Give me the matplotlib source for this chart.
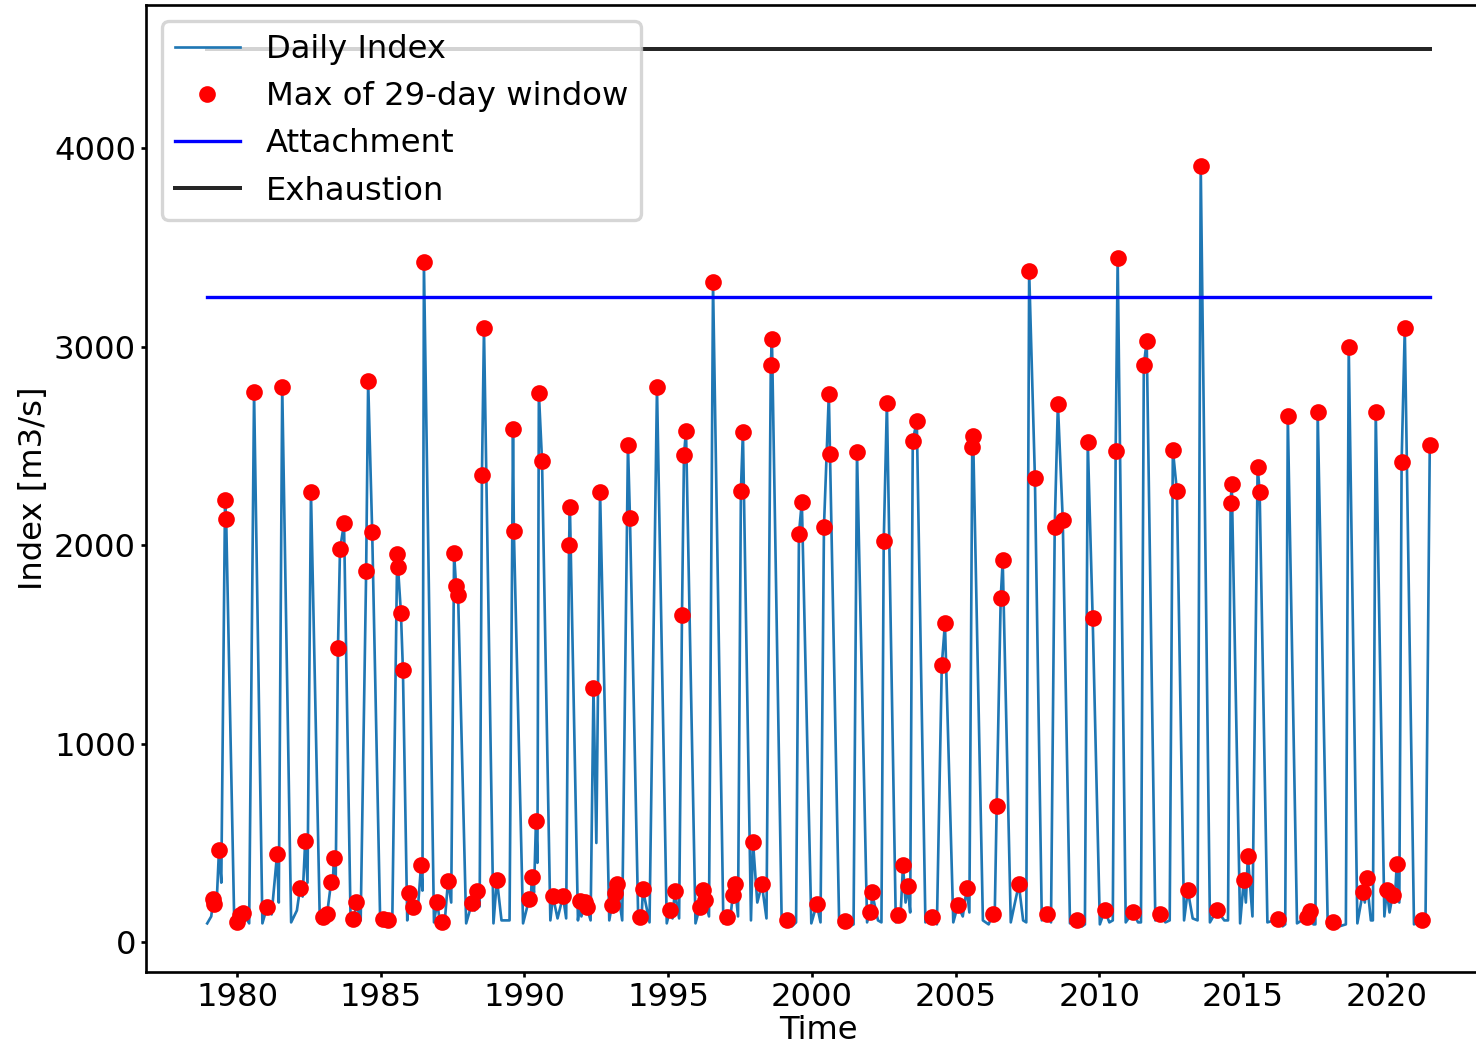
import matplotlib
matplotlib.use("Agg")
import matplotlib.pyplot as plt
import numpy as np

# red dots: max of 29-day window (decimal year, m3/s)
dot_t = [1979.17, 1979.20, 1979.37, 1979.58, 1979.62, 1980.00, 1980.10, 1980.21,
         1980.59, 1981.04, 1981.39, 1981.57, 1982.19, 1982.37, 1982.57, 1982.99,
         1983.13, 1983.27, 1983.37, 1983.51, 1983.58, 1983.72, 1984.03, 1984.14,
         1984.49, 1984.56, 1984.70, 1985.08, 1985.25, 1985.57, 1985.60, 1985.70,
         1985.77, 1985.98, 1986.12, 1986.40, 1986.50, 1986.96, 1987.13, 1987.34,
         1987.55, 1987.62, 1987.69, 1988.17, 1988.35, 1988.52, 1988.59, 1989.04,
         1989.60, 1989.63, 1990.16, 1990.26, 1990.40, 1990.50, 1990.61, 1990.99,
         1991.34, 1991.55, 1991.58, 1991.93, 1992.10, 1992.17, 1992.40, 1992.63,
         1993.04, 1993.15, 1993.22, 1993.60, 1993.67, 1994.02, 1994.12, 1994.61,
         1995.06, 1995.23, 1995.48, 1995.55, 1995.62, 1996.10, 1996.21, 1996.28,
         1996.56, 1997.04, 1997.25, 1997.32, 1997.53, 1997.60, 1997.95, 1998.26,
         1998.57, 1998.61, 1999.13, 1999.55, 1999.65, 2000.17, 2000.42, 2000.59,
         2000.63, 2001.15, 2001.57, 2002.02, 2002.09, 2002.50, 2002.61, 2002.99,
         2003.17, 2003.34, 2003.51, 2003.65, 2004.17, 2004.52, 2004.63, 2005.08,
         2005.39, 2005.58, 2005.61, 2006.30, 2006.43, 2006.57, 2006.64, 2007.20,
         2007.56, 2007.76, 2008.17, 2008.45, 2008.56, 2008.73, 2009.22, 2009.60,
         2009.77, 2010.19, 2010.57, 2010.64, 2011.17, 2011.55, 2011.65, 2012.10,
         2012.56, 2012.70, 2013.08, 2013.53, 2014.09, 2014.57, 2014.61, 2015.03,
         2015.17, 2015.51, 2015.58, 2016.21, 2016.56, 2017.22, 2017.32, 2017.60,
         2018.12, 2018.68, 2019.17, 2019.30, 2019.62, 2020.00, 2020.21, 2020.35,
         2020.52, 2020.63, 2021.22, 2021.50]
dot_v = [216, 191, 467, 2230, 2130, 100, 136, 146,
         2772, 176, 442, 2798, 271, 512, 2270, 126,
         141, 301, 422, 1482, 1979, 2110, 116, 201,
         1868, 2828, 2069, 116, 110, 1954, 1888, 1660,
         1371, 246, 176, 387, 3425, 201, 100, 311,
         1959, 1793, 1748, 196, 256, 2356, 3094, 316,
         2587, 2074, 216, 331, 613, 2767, 2426, 231,
         231, 1999, 2195, 206, 201, 176, 1281, 2270,
         186, 250, 291, 2506, 2135, 126, 266, 2798,
         161, 256, 1650, 2456, 2577, 176, 261, 211,
         3325, 126, 236, 291, 2275, 2572, 507, 291,
         2908, 3039, 110, 2059, 2220, 191, 2094, 2762,
         2461, 105, 2471, 151, 251, 2019, 2717, 136,
         387, 281, 2526, 2627, 126, 1396, 1607, 186,
         271, 2496, 2551, 141, 688, 1733, 1924, 291,
         3380, 2341, 141, 2094, 2712, 2125, 110, 2521,
         1632, 161, 2476, 3445, 151, 2908, 3029, 141,
         2481, 2275, 261, 3913, 161, 2215, 2310, 316,
         432, 2396, 2270, 116, 2652, 126, 156, 2672,
         100, 2998, 251, 326, 2672, 261, 240, 392,
         2421, 3094, 110, 2506]

# low-flow points of the daily series between the dots
low_t = [1978.96, 1979.10, 1979.28, 1979.45, 1979.90, 1980.05, 1980.16, 1980.42,
         1980.88, 1981.20, 1981.45, 1981.88, 1982.08, 1982.28, 1982.45, 1982.88,
         1983.06, 1983.20, 1983.32, 1983.43, 1983.95, 1984.08, 1984.30, 1984.98,
         1985.15, 1985.40, 1985.92, 1986.05, 1986.28, 1986.45, 1986.85, 1987.05,
         1987.22, 1987.45, 1987.97, 1988.27, 1988.44, 1988.92, 1989.20, 1989.48,
         1989.95, 1990.21, 1990.33, 1990.45, 1990.90, 1991.15, 1991.45, 1991.86,
         1991.98, 1992.13, 1992.30, 1992.50, 1992.95, 1993.10, 1993.18, 1993.40,
         1993.96, 1994.07, 1994.35, 1994.95, 1995.15, 1995.38, 1995.95, 1996.15,
         1996.25, 1996.42, 1996.92, 1997.15, 1997.28, 1997.43, 1997.88, 1998.10,
         1998.42, 1998.95, 1999.30, 1999.45, 1999.98, 2000.30, 2000.95, 2001.30,
         2001.45, 2001.92, 2002.06, 2002.30, 2002.42, 2002.92, 2003.08, 2003.26,
         2003.42, 2003.95, 2004.35, 2004.92, 2005.25, 2005.48, 2005.95, 2006.15,
         2006.36, 2006.92, 2007.35, 2007.46, 2008.00, 2008.32, 2008.98, 2009.40,
         2009.50, 2010.02, 2010.35, 2010.47, 2010.92, 2011.35, 2011.45, 2011.95,
         2012.30, 2012.45, 2012.95, 2013.25, 2013.42, 2013.85, 2014.35, 2014.48,
         2014.90, 2015.10, 2015.33, 2015.85, 2016.38, 2016.47, 2016.88, 2017.27,
         2017.45, 2017.52, 2017.95, 2018.35, 2018.58, 2018.98, 2019.24, 2019.45,
         2019.52, 2019.92, 2020.10, 2020.28, 2020.44, 2020.95, 2021.35]
low_v = [95, 130, 170, 300, 105, 110, 120, 95,
         95, 140, 200, 100, 160, 230, 300, 95,
         120, 220, 280, 300, 100, 110, 110, 95,
         100, 110, 110, 150, 150, 260, 100, 110,
         95, 200, 95, 160, 180, 95, 110, 110,
         95, 200, 250, 400, 110, 120, 120, 110,
         130, 150, 110, 500, 110, 150, 200, 110,
         95, 110, 100, 95, 120, 120, 95, 150,
         180, 130, 95, 110, 200, 130, 110, 200,
         120, 95, 80, 100, 95, 100, 90, 80,
         90, 100, 130, 110, 100, 100, 120, 200,
         150, 100, 90, 100, 130, 150, 110, 90,
         120, 100, 110, 100, 110, 100, 95, 80,
         90, 90, 100, 110, 100, 100, 100, 110,
         100, 110, 110, 120, 110, 100, 110, 110,
         95, 200, 130, 100, 80, 90, 95, 120,
         90, 90, 80, 80, 90, 95, 200, 110,
         110, 130, 150, 200, 200, 90, 90]

attachment = 3250
exhaustion = 4500

daily = sorted(zip(dot_t + low_t, dot_v + low_v))
daily_t = [p[0] for p in daily]
daily_v = [p[1] for p in daily]

plt.rcParams['font.size'] = 9.7

fig = plt.figure(figsize=(6.15, 1048 / 240), dpi=240)
ax = fig.add_axes([146 / 1476, 76 / 1048, 1345 / 1476, 967 / 1048])

ax.plot(daily_t, daily_v, color="tab:blue", lw=0.8, label="Daily Index")
ax.plot(dot_t, dot_v, "o", color="red", ms=4, label="Max of 29-day window")
ax.plot([daily_t[0], daily_t[-1]], [attachment, attachment], color="blue", lw=1,
        label="Attachment")
ax.plot([daily_t[0], daily_t[-1]], [exhaustion, exhaustion], color="k", lw=1.2,
        alpha=0.85, label="Exhaustion")

ax.set_xlim(1976.83, 2023.63)
ax.set_ylim(-150, 4722)
ax.set_xticks(range(1980, 2021, 5))
ax.set_yticks(range(0, 4001, 1000))
ax.tick_params(length=1.5, pad=1.5)
ax.set_xlabel("Time", labelpad=0.5)
ax.set_ylabel("Index [m3/s]", labelpad=1.5)
ax.legend(loc="upper left")

plt.savefig("out.png", dpi=240)
